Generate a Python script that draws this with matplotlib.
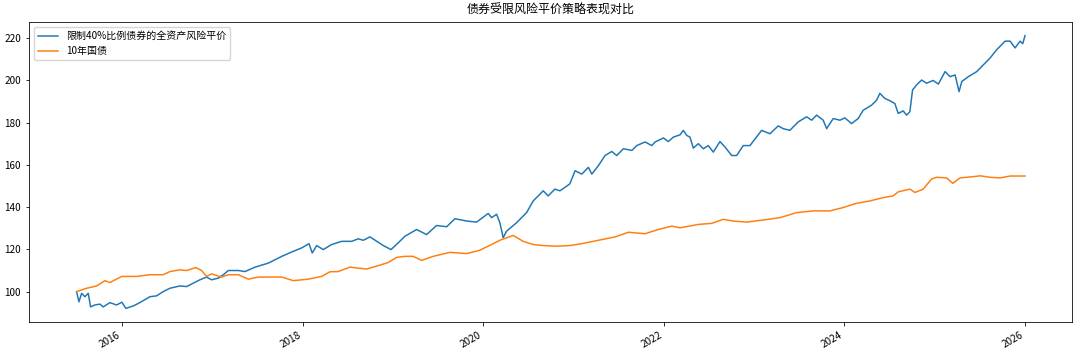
import pandas as pd
import matplotlib
matplotlib.use("Agg")
import matplotlib.pyplot as plt

plt.rcParams['font.family'] = ['Noto Sans CJK SC', 'DejaVu Sans']
plt.rcParams['axes.unicode_minus'] = False

title = '债券受限风险平价策略表现对比'
name_rp = '限制40%比例债券的全资产风险平价'
name_bond = '10年国债'

# decimal years and values
rp_t = [2015.498, 2015.524, 2015.554, 2015.590, 2015.627, 2015.653, 2015.701, 2015.756,
        2015.793, 2015.867, 2015.941, 2016.000, 2016.044, 2016.125, 2016.199, 2016.310,
        2016.384, 2016.457, 2016.532, 2016.642, 2016.717, 2016.790, 2016.864, 2016.938,
        2016.993, 2017.066, 2017.122, 2017.177, 2017.288, 2017.362, 2017.473, 2017.620,
        2017.769, 2017.897, 2017.990, 2018.071, 2018.107, 2018.156, 2018.229, 2018.322,
        2018.433, 2018.544, 2018.617, 2018.672, 2018.746, 2018.821, 2018.894, 2018.979,
        2019.060, 2019.134, 2019.264, 2019.374, 2019.485, 2019.596, 2019.688, 2019.817,
        2019.928, 2020.057, 2020.094, 2020.150, 2020.186, 2020.223, 2020.260, 2020.371,
        2020.482, 2020.555, 2020.666, 2020.721, 2020.795, 2020.851, 2020.906, 2020.961,
        2021.017, 2021.091, 2021.164, 2021.202, 2021.275, 2021.349, 2021.423, 2021.478,
        2021.552, 2021.645, 2021.700, 2021.792, 2021.866, 2021.903, 2021.995, 2022.050,
        2022.106, 2022.180, 2022.216, 2022.254, 2022.290, 2022.327, 2022.382, 2022.438,
        2022.493, 2022.548, 2022.622, 2022.678, 2022.752, 2022.807, 2022.880, 2022.954,
        2023.084, 2023.176, 2023.268, 2023.323, 2023.397, 2023.489, 2023.582, 2023.638,
        2023.693, 2023.766, 2023.804, 2023.877, 2023.951, 2024.006, 2024.081, 2024.154,
        2024.209, 2024.302, 2024.358, 2024.394, 2024.450, 2024.505, 2024.560, 2024.597,
        2024.652, 2024.690, 2024.726, 2024.756, 2024.801, 2024.856, 2024.911, 2024.984,
        2025.040, 2025.114, 2025.169, 2025.225, 2025.269, 2025.299, 2025.372, 2025.465,
        2025.538, 2025.612, 2025.687, 2025.779, 2025.834, 2025.889, 2025.945, 2025.974,
        2026.000]
rp_v = [100.0, 95.2, 99.2, 97.6, 99.2, 92.8, 93.7, 94.1,
        92.8, 94.8, 93.7, 95.0, 92.1, 93.2, 94.8, 97.6,
        98.0, 100.0, 101.6, 102.7, 102.4, 104.0, 105.6, 106.9,
        105.6, 106.4, 108.0, 110.0, 110.0, 109.5, 111.6, 113.5,
        116.7, 119.1, 120.7, 122.7, 118.3, 121.8, 119.9, 122.3,
        123.8, 123.8, 125.0, 124.3, 125.9, 123.8, 121.8, 119.9,
        123.1, 126.2, 129.4, 127.0, 131.3, 130.7, 134.5, 133.4,
        132.9, 137.0, 135.0, 136.6, 132.6, 125.5, 128.6, 132.6,
        137.4, 142.9, 147.7, 145.3, 148.5, 147.7, 149.3, 151.0,
        157.2, 155.6, 158.8, 155.6, 159.6, 164.4, 166.3, 164.4,
        167.6, 166.8, 169.1, 170.8, 169.1, 170.8, 172.7, 171.0,
        173.1, 174.2, 176.3, 173.9, 173.1, 167.9, 170.0, 167.6,
        169.1, 166.0, 171.0, 168.4, 164.4, 164.4, 169.1, 169.1,
        176.3, 174.7, 178.4, 177.1, 176.3, 180.3, 182.7, 181.1,
        183.5, 181.1, 177.1, 181.9, 181.1, 182.2, 179.5, 181.9,
        185.8, 188.2, 190.6, 193.8, 191.4, 190.3, 189.0, 184.3,
        185.5, 183.5, 185.1, 195.4, 197.8, 200.1, 198.6, 199.9,
        198.2, 204.1, 201.7, 202.5, 194.6, 199.4, 201.7, 204.1,
        207.3, 210.5, 214.5, 218.5, 218.5, 215.3, 218.5, 217.3,
        221.1]

bond_t = [2015.498, 2015.609, 2015.720, 2015.812, 2015.867, 2015.997, 2016.163, 2016.310,
          2016.457, 2016.532, 2016.642, 2016.717, 2016.820, 2016.883, 2016.938, 2016.993,
          2017.104, 2017.177, 2017.288, 2017.399, 2017.509, 2017.769, 2017.897, 2018.063,
          2018.211, 2018.303, 2018.395, 2018.525, 2018.599, 2018.710, 2018.838, 2018.949,
          2019.042, 2019.134, 2019.226, 2019.319, 2019.447, 2019.632, 2019.817, 2019.964,
          2020.094, 2020.186, 2020.333, 2020.444, 2020.555, 2020.666, 2020.814, 2020.961,
          2021.091, 2021.275, 2021.460, 2021.607, 2021.792, 2021.939, 2022.088, 2022.180,
          2022.382, 2022.530, 2022.659, 2022.769, 2022.918, 2023.102, 2023.287, 2023.472,
          2023.656, 2023.841, 2023.988, 2024.136, 2024.283, 2024.431, 2024.542, 2024.597,
          2024.726, 2024.782, 2024.874, 2024.967, 2025.022, 2025.133, 2025.199, 2025.280,
          2025.427, 2025.501, 2025.612, 2025.723, 2025.834, 2026.000]
bond_v = [100.0, 101.6, 102.7, 105.2, 104.3, 107.2, 107.2, 108.0,
          108.0, 109.5, 110.3, 110.0, 111.4, 110.0, 107.2, 108.4,
          106.9, 108.0, 108.0, 105.9, 106.9, 106.9, 105.2, 105.9,
          107.2, 109.4, 109.5, 111.6, 111.2, 110.7, 112.3, 113.8,
          116.2, 116.7, 116.7, 114.8, 116.7, 118.6, 118.0, 119.6,
          122.3, 124.3, 126.6, 123.8, 122.3, 121.8, 121.5, 121.8,
          122.7, 124.3, 125.9, 128.1, 127.4, 129.4, 131.0, 130.2,
          131.8, 132.3, 134.2, 133.4, 132.9, 133.9, 135.0, 137.4,
          138.2, 138.2, 139.8, 141.8, 142.9, 144.5, 145.3, 147.2,
          148.5, 146.9, 148.5, 153.3, 154.1, 153.8, 151.2, 153.8,
          154.4, 154.8, 154.1, 153.8, 154.7, 154.7]


def to_dates(ts):
    out = []
    for t in ts:
        y = int(t)
        out.append(pd.Timestamp(year=y, month=1, day=1) + pd.Timedelta(days=(t - y) * 365.25))
    return out


s = 0.72  # picture looks like a 15x5 figure shrunk down
plt.rcParams['font.size'] = 10 * s
plt.rcParams['lines.linewidth'] = 1.5 * s
plt.rcParams['axes.linewidth'] = 0.8 * s
plt.rcParams['xtick.major.size'] = 3.5 * s
plt.rcParams['ytick.major.size'] = 3.5 * s
plt.rcParams['xtick.major.width'] = 0.8 * s
plt.rcParams['ytick.major.width'] = 0.8 * s

fig = plt.figure(figsize=(10.8, 3.55), dpi=100)
ax = fig.add_axes([0.027, 0.093, 0.966, 0.845])
ax.plot(to_dates(rp_t), rp_v, label=name_rp)
ax.plot(to_dates(bond_t), bond_v, label=name_bond)
ax.set_title(title, fontsize=12 * s)
ax.legend(loc='upper left')
for lab in ax.get_xticklabels():
    lab.set_rotation(30)
    lab.set_ha('right')
ax.tick_params(axis='x', labelrotation=30)
plt.setp(ax.get_xticklabels(), ha='right')

fig.savefig('out.png', dpi=100)
